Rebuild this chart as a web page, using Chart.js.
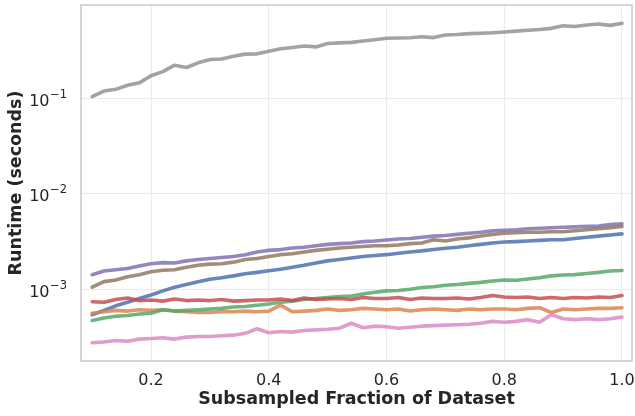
<!DOCTYPE html>
<html><head><meta charset="utf-8">
<script src="https://cdn.jsdelivr.net/npm/chart.js@4.4.1/dist/chart.umd.min.js"></script>
<style>html,body{margin:0;padding:0;background:#fff}#wrap{width:635px;height:416px}</style>
</head><body><div id="wrap"><canvas id="c" width="635" height="416"></canvas></div>
<script>
const fractions = [0.10,0.12,0.14,0.16,0.18,0.20,0.22,0.24,0.26,0.28,0.30,0.32,0.34,0.36,0.38,0.40,0.42,0.44,0.46,0.48,0.50,0.52,0.54,0.56,0.58,0.60,0.62,0.64,0.66,0.68,0.70,0.72,0.74,0.76,0.78,0.80,0.82,0.84,0.86,0.88,0.90,0.92,0.94,0.96,0.98,1.00];
const blueSeries = [5.4e-4,6.0e-4,6.7e-4,7.3e-4,8.0e-4,8.7e-4,9.6e-4,1.05e-3,1.12e-3,1.2e-3,1.27e-3,1.32e-3,1.38e-3,1.45e-3,1.5e-3,1.56e-3,1.62e-3,1.7e-3,1.78e-3,1.88e-3,1.98e-3,2.05e-3,2.12e-3,2.2e-3,2.25e-3,2.3e-3,2.38e-3,2.45e-3,2.52e-3,2.6e-3,2.68e-3,2.75e-3,2.85e-3,2.95e-3,3.05e-3,3.12e-3,3.15e-3,3.2e-3,3.25e-3,3.3e-3,3.3e-3,3.4e-3,3.5e-3,3.6e-3,3.7e-3,3.8e-3];
const orangeSeries = [5.6e-4,5.8e-4,6.0e-4,5.9e-4,6.1e-4,6.0e-4,6.1e-4,5.9e-4,5.8e-4,5.7e-4,5.7e-4,5.8e-4,5.8e-4,5.9e-4,5.8e-4,5.9e-4,6.8e-4,5.8e-4,5.9e-4,6.0e-4,6.2e-4,6.0e-4,6.1e-4,6.3e-4,6.2e-4,6.1e-4,6.2e-4,5.9e-4,6.1e-4,6.2e-4,6.1e-4,6.0e-4,6.2e-4,6.1e-4,6.2e-4,6.2e-4,6.1e-4,6.3e-4,6.4e-4,5.7e-4,6.2e-4,6.1e-4,6.2e-4,6.3e-4,6.3e-4,6.4e-4];
const greenSeries = [4.7e-4,5.0e-4,5.2e-4,5.3e-4,5.5e-4,5.6e-4,6.1e-4,5.9e-4,6.0e-4,6.1e-4,6.2e-4,6.3e-4,6.5e-4,6.6e-4,6.8e-4,7.0e-4,7.3e-4,7.5e-4,7.8e-4,8.0e-4,8.2e-4,8.4e-4,8.5e-4,8.9e-4,9.3e-4,9.6e-4,9.7e-4,1.0e-3,1.04e-3,1.06e-3,1.1e-3,1.12e-3,1.15e-3,1.18e-3,1.22e-3,1.25e-3,1.24e-3,1.28e-3,1.32e-3,1.38e-3,1.41e-3,1.42e-3,1.46e-3,1.5e-3,1.55e-3,1.57e-3];
const redSeries = [7.4e-4,7.3e-4,7.8e-4,8.1e-4,7.6e-4,7.7e-4,7.5e-4,7.9e-4,7.6e-4,7.7e-4,7.6e-4,7.8e-4,7.5e-4,7.6e-4,7.7e-4,7.7e-4,7.9e-4,7.6e-4,8.1e-4,7.8e-4,7.9e-4,8.0e-4,7.8e-4,8.2e-4,8.0e-4,8.0e-4,8.2e-4,7.8e-4,8.1e-4,8.0e-4,8.0e-4,8.1e-4,7.9e-4,8.2e-4,8.6e-4,8.3e-4,8.2e-4,8.3e-4,8.0e-4,8.2e-4,8.0e-4,8.2e-4,8.1e-4,8.3e-4,8.2e-4,8.6e-4];
const purpleSeries = [1.42e-3,1.55e-3,1.6e-3,1.65e-3,1.75e-3,1.85e-3,1.9e-3,1.88e-3,1.98e-3,2.05e-3,2.1e-3,2.15e-3,2.2e-3,2.3e-3,2.45e-3,2.55e-3,2.6e-3,2.7e-3,2.75e-3,2.85e-3,2.95e-3,3.0e-3,3.05e-3,3.15e-3,3.2e-3,3.28e-3,3.35e-3,3.4e-3,3.5e-3,3.6e-3,3.65e-3,3.75e-3,3.85e-3,3.95e-3,4.1e-3,4.15e-3,4.2e-3,4.3e-3,4.35e-3,4.4e-3,4.45e-3,4.5e-3,4.55e-3,4.6e-3,4.75e-3,4.85e-3];
const brownSeries = [1.05e-3,1.2e-3,1.25e-3,1.35e-3,1.42e-3,1.52e-3,1.58e-3,1.6e-3,1.7e-3,1.78e-3,1.83e-3,1.85e-3,1.92e-3,2.05e-3,2.1e-3,2.2e-3,2.3e-3,2.35e-3,2.45e-3,2.55e-3,2.62e-3,2.7e-3,2.75e-3,2.8e-3,2.85e-3,2.85e-3,2.9e-3,3.0e-3,3.05e-3,3.3e-3,3.2e-3,3.35e-3,3.45e-3,3.6e-3,3.75e-3,3.85e-3,3.9e-3,3.95e-3,3.95e-3,4.0e-3,4.0e-3,4.1e-3,4.2e-3,4.3e-3,4.4e-3,4.55e-3];
const pinkSeries = [2.75e-4,2.8e-4,2.9e-4,2.85e-4,3.0e-4,3.05e-4,3.1e-4,3.0e-4,3.15e-4,3.2e-4,3.2e-4,3.25e-4,3.3e-4,3.45e-4,3.85e-4,3.5e-4,3.6e-4,3.55e-4,3.7e-4,3.75e-4,3.8e-4,3.9e-4,4.4e-4,3.95e-4,4.1e-4,4.05e-4,3.9e-4,4.0e-4,4.1e-4,4.15e-4,4.2e-4,4.25e-4,4.3e-4,4.4e-4,4.6e-4,4.5e-4,4.6e-4,4.8e-4,4.5e-4,5.4e-4,4.9e-4,4.8e-4,4.9e-4,4.8e-4,4.9e-4,5.1e-4];
const graySeries = [0.104,0.119,0.124,0.137,0.145,0.172,0.19,0.222,0.21,0.235,0.255,0.258,0.275,0.29,0.292,0.31,0.33,0.34,0.352,0.345,0.375,0.38,0.385,0.398,0.41,0.425,0.428,0.43,0.44,0.432,0.46,0.465,0.475,0.48,0.485,0.495,0.505,0.515,0.525,0.54,0.575,0.565,0.585,0.6,0.58,0.61];
const xTickValues = [0.2,0.4,0.6,0.8,1.0];
const yTickValues = [1e-3,1e-2,1e-1];
const yTickExponents = ['\u22123','\u22122','\u22121'];

const seriesList = [
  [blueSeries,'rgba(76,114,176,0.85)'],
  [orangeSeries,'rgba(221,132,82,0.85)'],
  [greenSeries,'rgba(85,168,104,0.85)'],
  [redSeries,'rgba(196,78,82,0.85)'],
  [purpleSeries,'rgba(129,114,179,0.85)'],
  [brownSeries,'rgba(147,120,96,0.85)'],
  [pinkSeries,'rgba(218,139,195,0.85)'],
  [graySeries,'rgba(140,140,140,0.8)']
];
const datasets = seriesList.map(([vals,col],i)=>({
  data: fractions.map((f,j)=>({x:f,y:vals[j]})),
  borderColor: col, borderWidth: 3.6, pointRadius: 0, tension: 0, fill:false,
  order: seriesList.length - i, borderJoinStyle:'round', borderCapStyle:'round'
}));

const font = 'DejaVu Sans';
const framePlugin = {
  id:'frame',
  afterDatasetsDraw(chart){
    const {ctx, chartArea:a} = chart;
    ctx.save(); ctx.strokeStyle='#cccccc'; ctx.lineWidth=1.6;
    ctx.strokeRect(a.left, a.top, a.right-a.left, a.bottom-a.top);
    ctx.restore();
  },
  afterDraw(chart){
    const s = chart.scales.y, ctx = chart.ctx;
    const right = 67;
    ctx.save();
    ctx.fillStyle = '#262626';
    ctx.textBaseline = 'alphabetic';
    ctx.textAlign = 'right';
    yTickValues.forEach((v,i)=>{
      const y = s.getPixelForValue(v);
      ctx.font = '11.5px "' + font + '"';
      const ew = ctx.measureText(yTickExponents[i]).width;
      ctx.fillText(yTickExponents[i], right, y - 0.5);
      ctx.font = '16px "' + font + '"';
      ctx.fillText('10', right - ew - 0.5, y + 7.5);
    });
    ctx.restore();
  }
};
new Chart(document.getElementById('c'), {
  type:'line',
  data:{datasets},
  plugins:[framePlugin],
  options:{
    responsive:false, animation:false,
    layout:{padding:{top:5,right:3,left:0,bottom:0}},
    plugins:{legend:{display:false}, tooltip:{enabled:false}},
    scales:{
      x:{type:'linear', min:0.081, max:1.017,
        afterBuildTicks(s){ s.ticks = xTickValues.map(v=>({value:v})); },
        afterFit(s){ s.height = 55; s.paddingLeft = 0; s.paddingRight = 0; },
        grid:{color:'#ebebeb', lineWidth:1, drawTicks:false},
        border:{display:false},
        ticks:{color:'#262626', font:{family:font,size:16}, padding:10, callback:v=>v.toFixed(1), maxRotation:0},
        title:{display:true, text:'Subsampled Fraction of Dataset', color:'#262626', font:{family:font,size:17.5,weight:'bold'}, padding:{top:0,bottom:6}}
      },
      y:{type:'logarithmic', min:1.77e-4, max:0.948,
        afterBuildTicks(s){ s.ticks = yTickValues.map(v=>({value:v})); },
        afterFit(s){ s.width = 81; s.paddingTop = 0; s.paddingBottom = 0; },
        grid:{color:'#ebebeb', lineWidth:1, drawTicks:false},
        border:{display:false},
        ticks:{display:true, color:'rgba(0,0,0,0)', font:{family:font,size:16}, padding:14,
          callback:()=>''},
        title:{display:true, text:'Runtime (seconds)', color:'#262626', font:{family:font,size:17.5,weight:'bold'}, padding:{top:5.5,bottom:0}}
      }
    }
  }
});
</script></body></html>
